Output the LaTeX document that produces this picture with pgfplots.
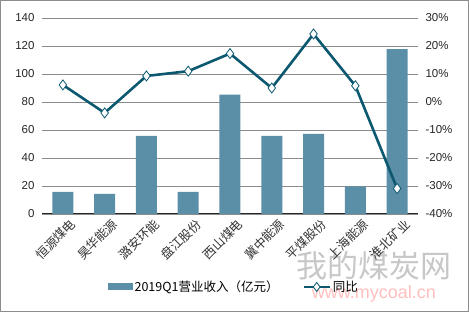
\documentclass[border=0pt]{standalone}
\usepackage{fontspec}
\setmainfont{Liberation Sans}
\newfontfamily\cjk{Noto Sans CJK SC}
\usepackage{pgfplots}
\pgfplotsset{compat=1.18}
\definecolor{barc}{HTML}{5B8FA7}
\definecolor{linec}{HTML}{0C5870}
\definecolor{gridc}{HTML}{8C8C8C}
\begin{document}
\begin{tikzpicture}
\draw[draw=gridc,line width=1pt] (0.5pt,0.5pt) rectangle (468.5pt,311.5pt);
% watermark
\node[text=black!22,font=\cjk\fontsize{31}{31}\selectfont,anchor=center] at (374pt,46pt) {我的煤炭网};
\node[text=red!25,font=\fontsize{18}{18}\selectfont,anchor=center] at (374pt,18pt) {www.mycoal.cn};
\begin{axis}[
  at={(42pt,98pt)}, anchor=south west,
  scale only axis, width=376pt, height=196pt,
  xmin=-0.5, xmax=8.5, ymin=0, ymax=140,
  ytick={0,20,...,140},
  axis y line*=left, axis x line*=bottom,
  y axis line style={draw=none},
  x axis line style={draw=black!85,line width=1pt},
  ymajorgrids, grid style={gridc,line width=0.9pt},
  major tick length=0pt,
  xtick={0,...,8},
  xticklabels={恒源煤电,昊华能源,潞安环能,盘江股份,西山煤电,冀中能源,平煤股份,上海能源,淮北矿业},
  xticklabel style={font=\cjk\fontsize{12.5}{12.5}\selectfont, rotate=45, anchor=north east, inner sep=1pt, xshift=3pt, yshift=-6pt, text=black!80},
  yticklabel style={font=\fontsize{11.5}{11.5}\selectfont, text=black!85, xshift=-4pt},
  /pgf/number format/assume math mode=true,
  legend style={at={(0.51,-0.372)}, anchor=center, draw=none, fill=none, legend columns=2, font=\cjk\fontsize{12.5}{12.5}\selectfont, /tikz/every even column/.append style={column sep=22pt}},
]
\addplot[ybar, bar width=21pt, fill=barc, draw=none, legend image code/.code={\fill[barc] (0pt,-3.5pt) rectangle (25pt,3.5pt);}] coordinates {
(0,15.8) (1,14.3) (2,55.8) (3,15.8) (4,85.2) (5,55.8) (6,57.2) (7,19.8) (8,117.8)};
\addlegendentry{2019Q1营业收入（亿元）}
\addlegendimage{linec, line width=2.4pt, mark=diamond*, mark size=4.5pt, mark options={fill=white,draw=linec,line width=0.8pt}, legend image code/.code={\draw[mark repeat=2,mark phase=2] plot coordinates {(0pt,0pt) (13pt,0pt) (26pt,0pt)};}}
\addlegendentry{同比}
\end{axis}
\begin{axis}[
  at={(42pt,98pt)}, anchor=south west,
  scale only axis, width=376pt, height=196pt,
  xmin=-0.5, xmax=8.5, ymin=-40, ymax=30,
  ytick={-40,-30,...,30},
  axis y line*=right, axis x line=none,
  y axis line style={draw=none},
  major tick length=0pt,
  yticklabel={\pgfmathprintnumber{\tick}\%},
  yticklabel style={font=\fontsize{11.5}{11.5}\selectfont, text=black!85, xshift=4pt},
  /pgf/number format/assume math mode=true,
]
\addplot[linec, line width=2.6pt, mark=diamond*, mark size=5pt, mark options={fill=white,draw=linec,line width=0.8pt}] coordinates {
(0,6.1) (1,-3.9) (2,9.3) (3,11.0) (4,17.3) (5,5.0) (6,24.3) (7,5.8) (8,-30.9)};
\end{axis}
\end{tikzpicture}
\end{document}
